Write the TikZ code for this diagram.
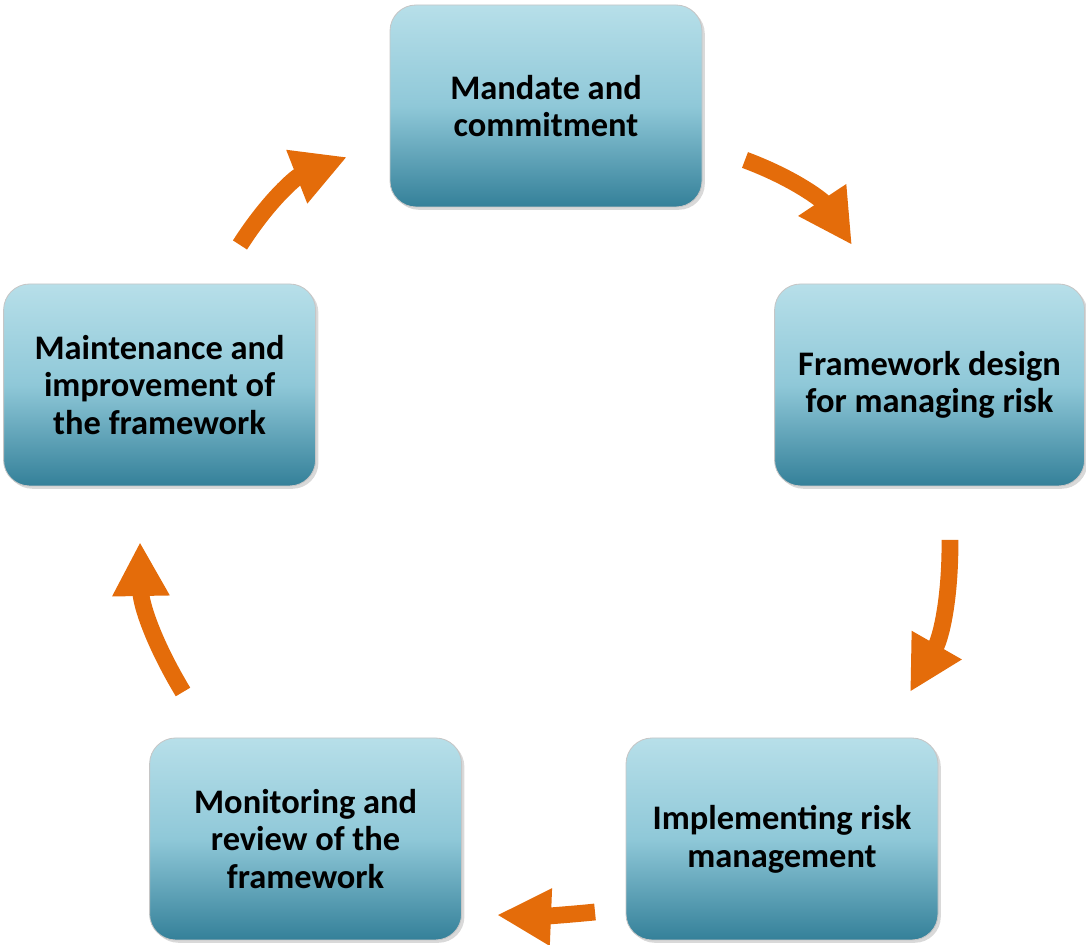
\documentclass[tikz,border=0pt]{standalone}
\usepackage{fontspec}
\setmainfont{Carlito}
\usetikzlibrary{arrows.meta, shadows}
\definecolor{boxtop}{RGB}{183, 223, 233}
\definecolor{boxmid}{RGB}{143, 200, 216}
\definecolor{boxbottom}{RGB}{52, 128, 153}
\definecolor{cycleorange}{RGB}{228, 108, 10}

\begin{document}
\begin{tikzpicture}[
    stage/.style={rectangle, rounded corners=0.65cm, draw=gray!45, line width=0.6pt,
        top color=boxtop, bottom color=boxbottom, middle color=boxmid,
        minimum width=7.8cm, minimum height=5.05cm, align=center,
        font=\bfseries\fontsize{24.5}{26.8}\selectfont,
        drop shadow={opacity=0.3, shadow xshift=0.07cm, shadow yshift=-0.07cm}},
    cycle/.style={line width=0.42cm, draw=cycleorange,
        -{Triangle[width=1.34cm, length=1.35cm]}}
]
\useasboundingbox (0,0) rectangle (27.15,23.625);

% Stages
\node[stage] (mandate) at (13.65,20.975) {Mandate and\\commitment};
\node[stage, minimum width=7.75cm] (design) at (23.24,14.0) {Framework design\\for managing risk};
\node[stage] (implement) at (19.55,2.65) {Implementing risk\\management};
\node[stage] (monitor) at (7.64,2.65) {Monitoring and\\review of the\\framework};
\node[stage] (improve) at (3.99,14.0) {Maintenance and\\improvement of\\the framework};

% Arrow ends
\coordinate (a1) at (6.0,17.5);    \coordinate (b1) at (8.675,19.7);
\coordinate (a2) at (18.625,19.625); \coordinate (b2) at (21.3,17.5);
\coordinate (a3) at (23.75,10.125); \coordinate (b3) at (22.75,6.325);
\coordinate (a4) at (14.875,0.825); \coordinate (b4) at (12.425,0.75);
\coordinate (a5) at (4.575,6.325);  \coordinate (b5) at (3.5,10.075);

% Arrows
\draw[cycle] (a1) to[bend left=18] (b1);
\draw[cycle] (a2) to[bend left=18] (b2);
\draw[cycle] (a3) to[bend left=15] (b3);
\draw[cycle] (a4) to[bend left=4] (b4);
\draw[cycle] (a5) to[bend left=15] (b5);

\end{tikzpicture}
\end{document}
